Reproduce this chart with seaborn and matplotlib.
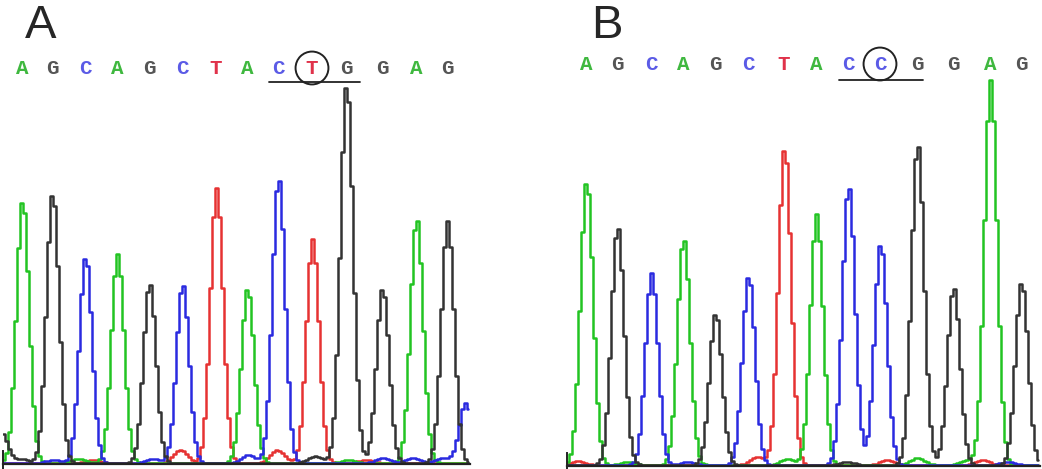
import numpy as np
import pandas as pd
import matplotlib
matplotlib.use("Agg")
import matplotlib.pyplot as plt
import seaborn as sns

# ---------------- data ----------------
# Panel A (reference allele)
seq_a = list("AGCAGCTACTGGAG")
peak_pos_a = [19, 49, 82, 114, 146, 179, 213, 244, 275, 309, 343, 379, 413, 444]
peak_h_a = [263, 270, 207, 209, 180, 179, 275, 175, 286, 224, 380, 175, 245, 242]
edge_base_a = ["G", "C"]
edge_pos_a = [-2, 462]
edge_h_a = [30, 60]
noise_base_a = ["G", "C", "A", "T", "C", "T", "C", "T", "G", "A", "T", "C", "C", "C"]
noise_pos_a = [18, 50, 75, 90, 150, 177, 245, 274, 312, 345, 362, 380, 410, 440]
noise_h_a = [4, 3, 4, 3, 4, 13, 8, 13, 7, 3, 3, 5, 5, 5]
circled_a = 9
underline_a = [266, 357]

# Panel B (variant allele)
seq_b = list("AGCAGCTACCGGAG")
peak_pos_b = [19, 50, 84, 116, 148, 181, 217, 249, 281, 313, 350, 386, 423, 454]
peak_h_b = [285, 239, 192, 227, 152, 189, 318, 251, 280, 222, 322, 178, 385, 183]
noise_base_b = ["T", "A", "C", "T", "A", "G", "T", "A", "A", "T", "C"]
noise_pos_b = [10, 60, 120, 190, 220, 280, 320, 350, 400, 415, 440]
noise_h_b = [4, 3, 3, 8, 6, 3, 5, 7, 5, 5, 3]
circled_b = 9
underline_b = [272, 356]

trace_colors = {"A": "#22c422", "C": "#2a2ae0", "G": "#333333", "T": "#e63232"}
letter_colors = {"A": "#3fb83f", "C": "#5b5be6", "G": "#555555", "T": "#e0324a"}

PEAK_SIGMA = 6.3
NOISE_SIGMA = 7.0
STEP = 3


def trace_frame(pos, h, seq, epos, eh, ebase, npos, nh, nbase, xmax):
    x = np.arange(0, xmax, STEP, dtype=float)
    rows = []
    for ch in "ACGT":
        y = np.zeros_like(x)
        for p, hh, b in zip(list(pos) + list(epos), list(h) + list(eh), list(seq) + list(ebase)):
            if b == ch:
                y += hh * np.exp(-0.5 * ((x - p) / PEAK_SIGMA) ** 2)
        for p, hh, b in zip(npos, nh, nbase):
            if b == ch:
                y += hh * np.exp(-0.5 * ((x - p) / NOISE_SIGMA) ** 2)
        rows.append(pd.DataFrame({"x": x, "signal": y, "channel": ch}))
    return pd.concat(rows, ignore_index=True)


sns.set_style("white")
plt.rcParams["font.family"] = ["Liberation Sans", "DejaVu Sans"]

fig = plt.figure(figsize=(10.42, 4.69), dpi=100)
axA = fig.add_axes([3 / 1042, 0, 467 / 1042, 1])
axB = fig.add_axes([567 / 1042, 0, 473 / 1042, 1])

panels = [
    (axA, seq_a, peak_pos_a, peak_h_a, edge_pos_a, edge_h_a, edge_base_a,
     noise_pos_a, noise_h_a, noise_base_a, circled_a, underline_a, 467, (-6, 463), 395, 381),
    (axB, seq_b, peak_pos_b, peak_h_b, [], [], [],
     noise_pos_b, noise_h_b, noise_base_b, circled_b, underline_b, 473, (-4, 465), 401, 385),
]

for (ax, seq, pos, h, epos, eh, ebase, npos, nh, nbase, circ, ul, xmax, ylim,
     letter_y, ul_y) in panels:
    df = trace_frame(pos, h, seq, epos, eh, ebase, npos, nh, nbase, xmax)
    sns.lineplot(data=df, x="x", y="signal", hue="channel", palette=trace_colors,
                 hue_order=["T", "A", "C", "G"], estimator=None, drawstyle="steps-mid",
                 linewidth=1.8, legend=False, ax=ax)
    ax.set_xlim(0, xmax)
    ax.set_ylim(*ylim)
    for b, x in zip(seq, pos):
        ax.text(x, letter_y, b, color=letter_colors[b], ha="center", va="center",
                fontsize=15, fontweight="bold", family="Liberation Mono")
    ax.scatter([pos[circ]], [letter_y], s=560, facecolors="none",
               edgecolors="#222222", linewidths=1.4, zorder=5, clip_on=False)
    ax.plot(ul, [ul_y, ul_y], color="#222222", lw=1.3)
    ax.set_xlabel("")
    ax.set_ylabel("")
    ax.set_xticks([])
    ax.set_yticks([])
    for s in ["top", "right"]:
        ax.spines[s].set_visible(False)
    ax.spines["bottom"].set_position(("data", -1))
    ax.spines["bottom"].set_color("#222222")
    ax.spines["bottom"].set_linewidth(1.6)
    ax.spines["left"].set_color("#222222")
    ax.spines["left"].set_linewidth(1.4)
    ax.spines["left"].set_bounds(ylim[0], 12)
    ax.patch.set_alpha(0)

fig.text(41 / 1042, 1 - 38 / 469, "A", fontsize=34, ha="center", va="baseline",
         family="Liberation Sans")
fig.text(607 / 1042, 1 - 38 / 469, "B", fontsize=34, ha="center", va="baseline",
         family="Liberation Sans")

fig.savefig("out.png", dpi=100, facecolor="white")
